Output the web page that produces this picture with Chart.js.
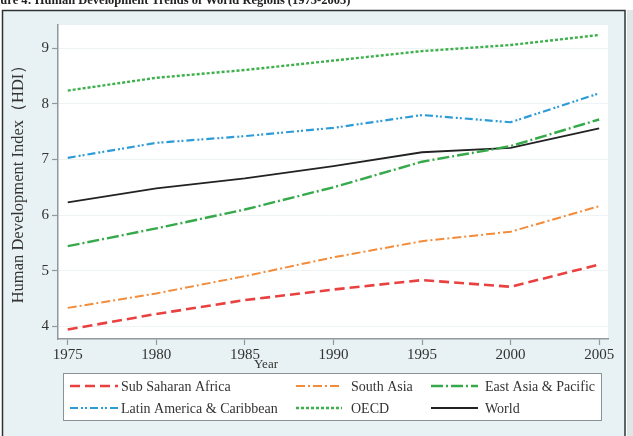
<!DOCTYPE html>
<html>
<head>
<meta charset="utf-8">
<script src="https://cdn.jsdelivr.net/npm/chart.js@4.4.1/dist/chart.umd.min.js"></script>
<style>
html,body{margin:0;padding:0;background:#ffffff;}
#wrap{position:relative;width:633px;height:436px;}
canvas{display:block;}
</style>
</head>
<body>
<div id="wrap"><canvas id="c" width="633" height="436"></canvas></div>
<script>
const years = [1975, 1980, 1985, 1990, 1995, 2000, 2005];
const xTicks = [1975, 1980, 1985, 1990, 1995, 2000, 2005];
const yTicks = [4, 5, 6, 7, 8, 9];
const subSaharanAfrica = [3.94, 4.22, 4.47, 4.66, 4.83, 4.71, 5.11];
const southAsia = [4.33, 4.59, 4.90, 5.24, 5.53, 5.70, 6.16];
const eastAsiaPacific = [5.44, 5.76, 6.10, 6.50, 6.96, 7.24, 7.72];
const latinAmerica = [7.03, 7.30, 7.42, 7.57, 7.80, 7.67, 8.19];
const oecd = [8.24, 8.47, 8.61, 8.78, 8.95, 9.06, 9.24];
const world = [6.23, 6.48, 6.66, 6.88, 7.13, 7.21, 7.56];
const seriesLabels = ['Sub Saharan Africa','South Asia','East Asia & Pacific','Latin America & Caribbean','OECD','World'];
const titleText = 'Figure 4: Human Development Trends of World Regions (1975-2005)';
const yTitle = 'Human Development Index（HDI）';
const xTitle = 'Year';

const SERIF = '"Liberation Serif", "DejaVu Serif", serif';

function pts(vals){ return years.map((y,i)=>({x:y,y:vals[i]})); }

const styles = [
  {color:'#e8413f', dash:[10,5], width:2.6},
  {color:'#f28c3a', dash:[9,3,2,3], width:2},
  {color:'#36a94a', dash:[12,3,2,3], width:2.4},
  {color:'#2d9bd7', dash:[8,3,2,2,2,3], width:2.2},
  {color:'#3db04c', dash:[3,2], width:2.4},
  {color:'#222222', dash:[], width:1.8}
];
const allData = [subSaharanAfrica, southAsia, eastAsiaPacific, latinAmerica, oecd, world];

const datasets = allData.map((d,i)=>({
  label: seriesLabels[i],
  data: pts(d),
  borderColor: styles[i].color,
  borderDash: styles[i].dash,
  borderWidth: styles[i].width,
  pointRadius: 0,
  tension: 0,
  fill: false
}));

const bgPlugin = {
  id:'bg',
  beforeDraw(chart){
    const ctx = chart.ctx;
    ctx.save();
    ctx.fillStyle = '#ffffff';
    ctx.fillRect(0,0,633,436);
    ctx.fillStyle = '#e8f1f3';
    ctx.fillRect(2,10,623,430);
    ctx.fillStyle = '#dfe6e8';
    ctx.fillRect(627,10,6,430);
    ctx.strokeStyle = '#2e3436';
    ctx.lineWidth = 1.5;
    ctx.strokeRect(2.5,10.5,622.5,440);
    const a = chart.chartArea;
    ctx.fillStyle = '#ffffff';
    ctx.fillRect(a.left, a.top, a.right-a.left, a.bottom-a.top);
    ctx.fillStyle = '#222';
    ctx.font = 'bold 12.5px ' + SERIF;
    ctx.textBaseline = 'alphabetic';
    ctx.textAlign = 'left';
    ctx.fillText(titleText, -17, 4);
    ctx.restore();
  },
  afterDraw(chart){
    const ctx = chart.ctx;
    ctx.save();
    ctx.fillStyle = '#333';
    ctx.font = '13px ' + SERIF;
    ctx.textAlign = 'center';
    ctx.textBaseline = 'middle';
    ctx.fillText(xTitle, 266, 365);
    ctx.save();
    ctx.translate(19, 180);
    ctx.rotate(-Math.PI/2);
    ctx.font = '16.5px ' + SERIF;
    ctx.fillText(yTitle, 0, 0);
    ctx.restore();
    ctx.fillStyle = '#ffffff';
    ctx.fillRect(63, 373, 538, 47);
    ctx.strokeStyle = '#8a9497';
    ctx.lineWidth = 1;
    ctx.strokeRect(63.5, 373.5, 538, 47);
    const cols = [{sx:70, ex:118, tx:121},{sx:296, ex:342, tx:351},{sx:431, ex:478, tx:485}];
    const rows = [386, 408];
    ctx.font = '14px ' + SERIF;
    ctx.textAlign = 'left';
    seriesLabels.forEach((lab,i)=>{
      const c = cols[i%3], r = rows[Math.floor(i/3)];
      ctx.save();
      ctx.strokeStyle = styles[i].color;
      ctx.lineWidth = styles[i].width;
      ctx.setLineDash(styles[i].dash);
      ctx.beginPath();
      ctx.moveTo(c.sx, r);
      ctx.lineTo(c.ex, r);
      ctx.stroke();
      ctx.restore();
      ctx.fillStyle = '#333';
      ctx.fillText(lab, c.tx, r+1);
    });
    ctx.restore();
  }
};

new Chart(document.getElementById('c'), {
  type: 'line',
  data: { datasets },
  options: {
    responsive: false,
    animation: false,
    devicePixelRatio: 1,
    layout: { padding: { left: 0, top: 25, right: 25, bottom: 0 } },
    plugins: { legend: { display: false }, tooltip: { enabled: false } },
    scales: {
      x: {
        type: 'linear',
        min: 1974.45,
        max: 2005.5,
        afterBuildTicks(s){ s.ticks = xTicks.map(v=>({value:v})); },
        afterFit(s){ s.height = 97; },
        grid: { drawOnChartArea: false, drawTicks: true, tickLength: 6, tickColor: '#8d9a9e', tickWidth: 1.2 },
        border: { display: true, color: '#8d9a9e', width: 1.5 },
        ticks: { color: '#333', font: { family: SERIF, size: 15 }, padding: 1, maxRotation: 0, autoSkip: false,
                 callback: v => String(v) }
      },
      y: {
        type: 'linear',
        min: 3.77,
        max: 9.42,
        afterBuildTicks(s){ s.ticks = yTicks.map(v=>({value:v})); },
        afterFit(s){ s.width = 58; },
        grid: { color: '#eef3f4', lineWidth: 1, drawTicks: true, tickLength: 6, tickColor: '#8d9a9e', tickWidth: 1.2 },
        border: { display: true, color: '#8d9a9e', width: 1.5 },
        ticks: { color: '#333', font: { family: SERIF, size: 15 }, padding: 3, callback: v => String(v) }
      }
    }
  },
  plugins: [bgPlugin]
});
</script>
</body>
</html>
